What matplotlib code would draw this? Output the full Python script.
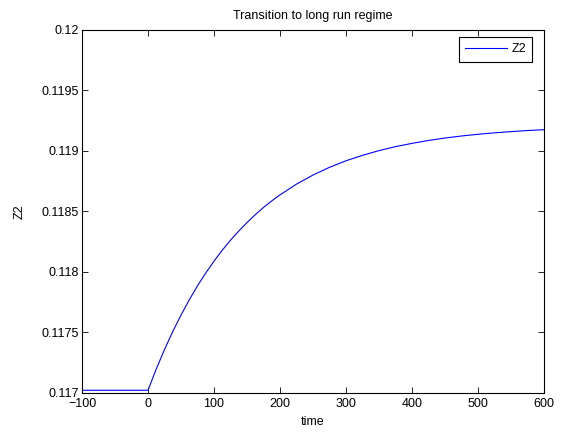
import numpy as np
import matplotlib as mpl
mpl.use('Agg')
import matplotlib.pyplot as plt

# values
time = [-100, 0, 12.5, 25, 37.5, 50, 62.5, 75, 87.5, 100, 112.5, 125, 137.5,
        150, 162.5, 175, 187.5, 200, 225, 250, 275, 300, 325, 350, 375, 400,
        425, 450, 475, 500, 525, 550, 575, 600]
z2 = [0.11702, 0.11702, 0.117196, 0.117357, 0.117506, 0.117642, 0.117768,
      0.117884, 0.117990, 0.118088, 0.118178, 0.118261, 0.118337, 0.118407,
      0.118472, 0.118532, 0.118586, 0.118636, 0.118725, 0.118800, 0.118864,
      0.118918, 0.118963, 0.119002, 0.119035, 0.119062, 0.119086, 0.119106,
      0.119123, 0.119137, 0.119149, 0.119159, 0.119168, 0.119175]

x_ticks = [-100, 0, 100, 200, 300, 400, 500, 600]
y_ticks = [0.117, 0.1175, 0.118, 0.1185, 0.119, 0.1195, 0.12]
y_labels = ['0.117', '0.1175', '0.118', '0.1185', '0.119', '0.1195', '0.12']

plt.rcParams['font.family'] = ['Liberation Sans', 'DejaVu Sans']
plt.rcParams['font.size'] = 9

fig = plt.figure(figsize=(5.61, 4.32), dpi=100)
ax = fig.add_axes([0.1462, 0.091, 0.8235, 0.8397])

ax.plot(time, z2, color='#0000ff', lw=0.8, label='Z2')

ax.set_xlim(-100, 600)
ax.set_ylim(0.117, 0.12)
ax.set_xticks(x_ticks)
ax.set_yticks(y_ticks)
ax.set_yticklabels(y_labels)
ax.tick_params(axis='x', direction='in', top=True, length=4, width=0.6,
               labelsize=9, pad=3.5)
ax.tick_params(axis='y', direction='in', right=True, length=4, width=0.6,
               labelsize=9, pad=2.5)
for s in ax.spines.values():
    s.set_linewidth(0.8)

ax.set_xlabel('time', labelpad=5)
ax.set_ylabel('Z2', labelpad=11)
ax.set_title('Transition to long run regime', fontsize=9, pad=8)

leg = ax.legend(loc='upper right', bbox_to_anchor=(532 / 561, 1 - 37 / 432),
                bbox_transform=fig.transFigure, borderaxespad=0,
                fancybox=False, edgecolor='black', framealpha=1,
                handlelength=3.4, handletextpad=0.3, borderpad=0.5)
leg.get_frame().set_linewidth(0.8)

fig.savefig('out.png', dpi=100)
plt.close(fig)
